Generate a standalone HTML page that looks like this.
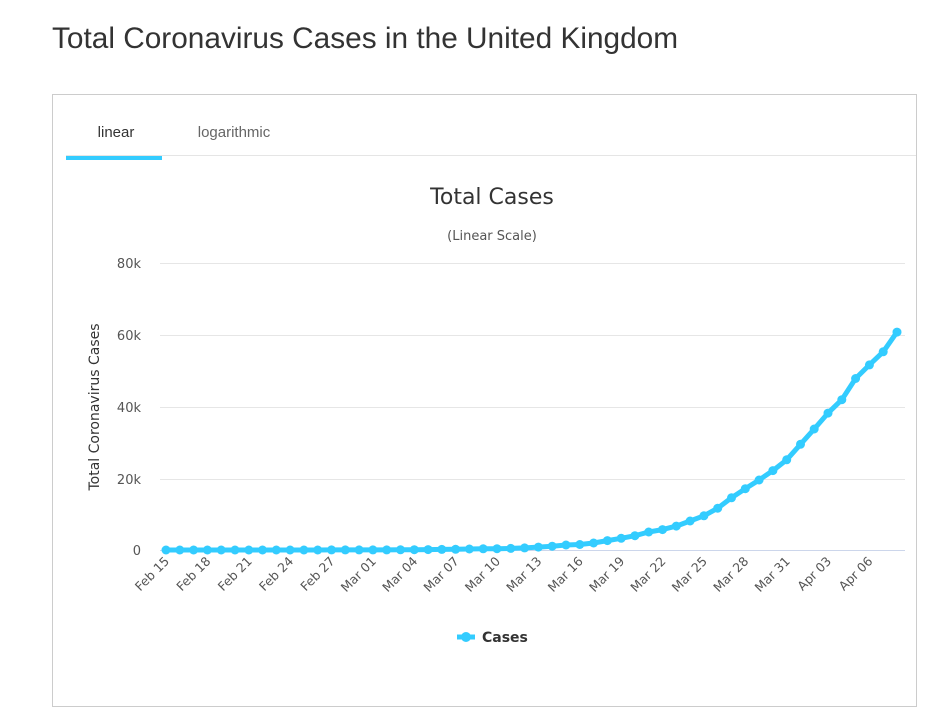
<!DOCTYPE html>
<html><head><meta charset="utf-8"><style>
body{margin:0;background:#fff;width:951px;height:721px;overflow:hidden;font-family:"Liberation Sans",sans-serif}
h1{position:absolute;left:52px;top:22px;margin:0;font-weight:normal;font-size:29.8px;color:#333}
.box{position:absolute;left:52px;top:94px;width:863px;height:611px;border:1px solid #ccc}
</style></head><body>
<h1>Total Coronavirus Cases in the United Kingdom</h1>
<div class="box"></div>
<svg width="951" height="721" style="position:absolute;left:0;top:0" id="s">
<line x1="66" y1="155.5" x2="916" y2="155.5" stroke="#e5e5e5"/>
<rect x="66" y="156" width="96" height="4" fill="#33ccff"/>
<text x="116" y="137" text-anchor="middle" font-size="15" fill="#333" font-family="Liberation Sans">linear</text>
<text x="234" y="137" text-anchor="middle" font-size="15" fill="#666" font-family="Liberation Sans">logarithmic</text>
<text x="492" y="204" text-anchor="middle" font-size="22" fill="#333" font-family="DejaVu Sans">Total Cases</text>
<text x="492" y="240" text-anchor="middle" font-size="13" fill="#555" font-family="DejaVu Sans">(Linear Scale)</text>
<text transform="translate(99,407) rotate(-90)" text-anchor="middle" font-size="14" fill="#333" font-family="DejaVu Sans">Total Coronavirus Cases</text>
<g id="g"></g>
<line x1="457" y1="637" x2="475" y2="637" stroke="#33ccff" stroke-width="5"/>
<circle cx="466" cy="637" r="5" fill="#33ccff"/>
<text x="482" y="642" font-size="14" font-weight="bold" fill="#333" font-family="DejaVu Sans">Cases</text>
</svg>
<script>
var d=[9,9,9,9,9,9,9,9,13,13,13,15,20,23,36,40,51,85,115,163,206,273,321,373,456,590,797,1061,1391,1543,1950,2626,3269,3983,5018,5683,6650,8077,9529,11658,14543,17089,19522,22141,25150,29474,33718,38168,41903,47806,51608,55242,60733];
while(d.length<54)d.unshift(9);
var g=document.getElementById('g'),h='',F='font-family="DejaVu Sans"';
var ys=[[0,550],[20,479],[40,407],[60,335],[80,263]];
ys.forEach(function(a){h+='<line x1="160" x2="905" y1="'+(a[1]+.5)+'" y2="'+(a[1]+.5)+'" stroke="'+(a[0]?'#e6e6e6':'#ccd6eb')+'"/>';
h+='<text x="141" y="'+(a[1]+5)+'" text-anchor="end" font-size="13" fill="#555" '+F+'>'+(a[0]?a[0]+'k':'0')+'</text>';});
var st=731/53,pts=[];
var lab=['Feb 15','Feb 18','Feb 21','Feb 24','Feb 27','Mar 01','Mar 04','Mar 07','Mar 10','Mar 13','Mar 16','Mar 19','Mar 22','Mar 25','Mar 28','Mar 31','Apr 03','Apr 06'];
for(var i=0;i<54;i++){var x=166+i*st,y=550-d[i]/80000*287;pts.push(x.toFixed(1)+','+y.toFixed(1));}
h+='<polyline points="'+pts.join(' ')+'" fill="none" stroke="#33ccff" stroke-width="5" stroke-linejoin="round"/>';
pts.forEach(function(p){var c=p.split(',');h+='<circle cx="'+c[0]+'" cy="'+c[1]+'" r="4.5" fill="#33ccff"/>';});
lab.forEach(function(l,k){var x=166+k*3*st+4;h+='<text transform="translate('+x.toFixed(1)+',562) rotate(-45)" text-anchor="end" font-size="12.5" fill="#555" '+F+'>'+l+'</text>';});
g.innerHTML=h;
</script>
</body></html>
